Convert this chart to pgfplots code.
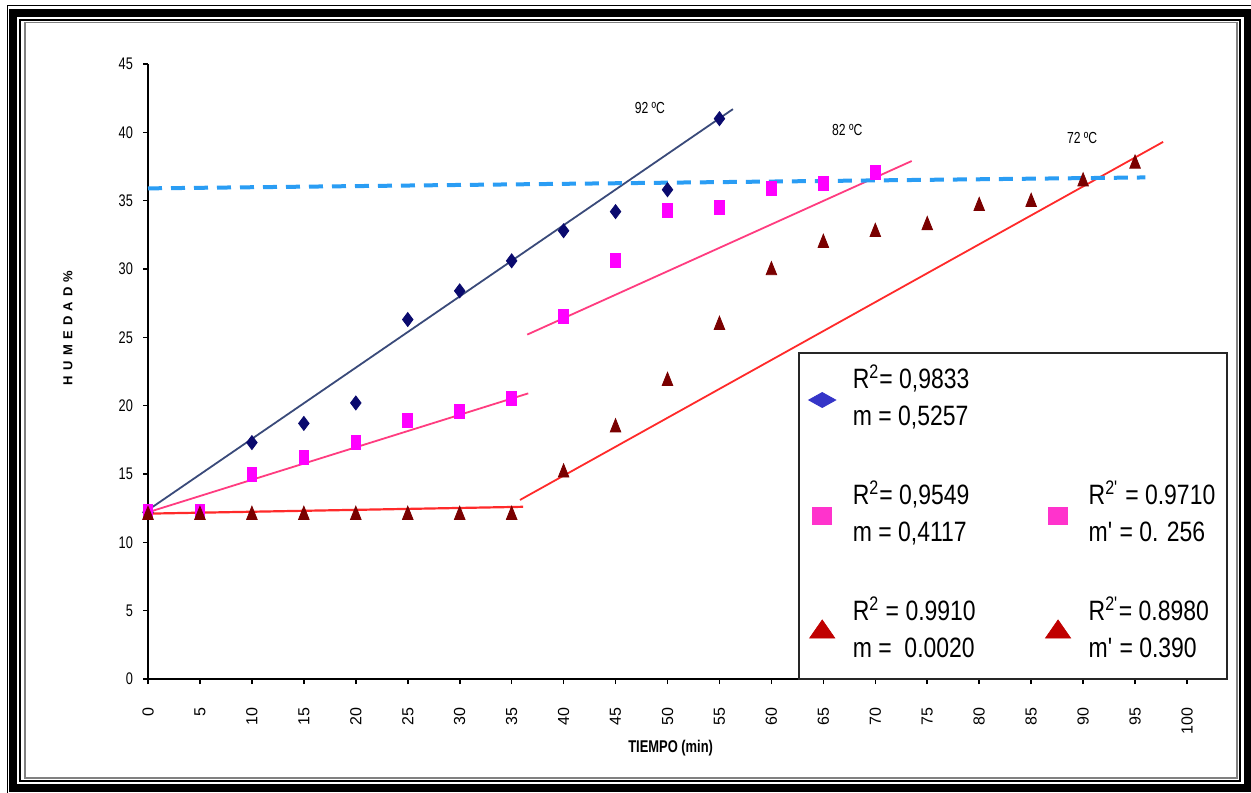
\documentclass[border=0pt]{standalone}
\usepackage{fontspec}
\setmainfont{Liberation Sans}[FakeStretch=0.76]
\newfontfamily\widefont{Liberation Sans}
\newfontfamily\legfont{Liberation Sans}[FakeStretch=0.82]
\newfontfamily\lsfont{Liberation Sans}[LetterSpace=40]
\usepackage{pgfplots}
\pgfplotsset{compat=1.18}

\definecolor{navyd}{HTML}{0A0A6E}
\definecolor{magd}{HTML}{FF00FF}
\definecolor{tri}{HTML}{7A0000}
\definecolor{trendblue}{HTML}{3A4A7A}
\definecolor{trendpink}{HTML}{FF3C80}
\definecolor{trendred}{HTML}{FF2A2A}
\definecolor{dashblue}{HTML}{2A9DF4}
\definecolor{legblue}{HTML}{3535C8}
\definecolor{legpink}{HTML}{FF33CC}
\definecolor{legred}{HTML}{C00000}

\newcommand\LE[2]{\begin{tabular}{@{}l@{}}#1\\#2\end{tabular}}

\begin{document}
\begin{tikzpicture}
\begin{scope}[x=0.5pt,y=-0.5pt,shift={(-148,-679)}]
\useasboundingbox (0,0) rectangle (1251,792);
\fill[white] (0,0) rectangle (1251,792);
\draw[line width=0.75pt] (7.5,5.75) rectangle (1262,803);
\draw[line width=4pt] (13.5,13) rectangle (1247.5,788);
\draw[line width=1pt] (20,20) rectangle (1240,781);
\draw[line width=0.75pt, gray] (25,22.5) rectangle (1237,778);
\end{scope}

\begin{axis}[
  at={(0,0)}, anchor=south west,
  scale only axis, width=519.5pt, height=307.5pt,
  xmin=0, xmax=100, ymin=0, ymax=45,
  xtick={0,5,...,100}, ytick={0,5,...,45},
  axis lines*=left,
  axis line style={line width=1pt, -},
  tick align=outside, major tick length=2.5pt,
  tick style={black, line width=0.8pt},
  clip=false,
  /pgf/number format/assume math mode=true,
  yticklabel style={font=\fontsize{8.4}{10}\selectfont, xshift=-1.5pt},
  xticklabel style={font=\widefont\fontsize{8}{10}\selectfont, yshift=-8.5pt, rotate=90, anchor=east},
  xlabel={\bfseries TIEMPO (min)},
  xlabel style={at={(rel axis cs:0.503,-0.112)}, anchor=center, font=\fontsize{8.5}{10}\selectfont},
  ylabel={\lsfont\bfseries HUMEDAD\%},
  ylabel style={at={(rel axis cs:-0.077,0.571)}, anchor=center, font=\fontsize{6.5}{8}\selectfont},
  legend columns=2,
  legend style={at={(axis description cs:0.6256,0.5317)}, anchor=north west,
    draw=black!85, line width=1pt, fill=white,
    font=\legfont\fontsize{14}{18.5}\selectfont, row sep=17pt, inner xsep=4pt, inner ysep=3pt,
    nodes={inner sep=2pt, text depth=},
    cells={anchor=west}},
  legend image code/.code={\draw[line width=0.4pt,#1] plot coordinates {(0.25cm,0cm)}; \path (0cm,0cm) (0.7cm,0cm);},
]
% data
\addplot[only marks, mark=diamond*, mark size=3.5pt, navyd, forget plot] coordinates {
(0,12.2)(10,17.3)(15,18.7)(20,20.2)(25,26.3)(30,28.4)(35,30.6)(40,32.8)(45,34.2)(50,35.8)(55,41.0)};
\addplot[only marks, mark=square*, mark size=3.5pt, mark options={xscale=0.7}, magd, forget plot] coordinates {
(0,12.3)(5,12.3)(10,15.0)(15,16.2)(20,17.3)(25,18.9)(30,19.6)(35,20.5)(40,26.5)(45,30.6)(50,34.3)(55,34.5)(60,35.9)(65,36.3)(70,37.1)};
\addplot[only marks, mark=triangle*, mark size=3.8pt, mark options={xscale=0.8,yscale=1.15}, tri, forget plot] coordinates {
(0,12.0)(5,12.0)(10,12.0)(15,12.0)(20,12.0)(25,12.0)(30,12.0)(35,12.0)(40,15.1)(45,18.4)(50,21.8)(55,25.9)(60,29.9)(65,31.9)(70,32.7)(75,33.2)(80,34.6)(85,34.9)(90,36.4)(95,37.7)};
% trend lines
\addplot[trendblue, line width=0.9pt, forget plot] coordinates {(0,12.36)(56.3,41.7)};
\addplot[trendpink, line width=0.9pt, forget plot] coordinates {(0,12.2)(36.6,20.9)};
\addplot[trendpink, line width=0.9pt, forget plot] coordinates {(36.5,25.2)(73.5,37.9)};
\addplot[trendred, line width=1.1pt, forget plot] coordinates {(0,12.1)(36.1,12.6)};
\addplot[trendred, line width=0.9pt, forget plot] coordinates {(35.8,13.1)(97.7,39.3)};
\addplot[dashblue, line width=2pt, dash pattern=on 7pt off 4.5pt, forget plot] coordinates {(0,35.9)(96,36.7)};
% temperature labels
\node[font=\fontsize{8}{10}\selectfont] at (axis cs:48.3,41.8) {92 ºC};
\node[font=\fontsize{8}{10}\selectfont] at (axis cs:67.3,40.2) {82 ºC};
\node[font=\fontsize{8}{10}\selectfont] at (axis cs:89.9,39.6) {72 ºC};
% legend
\addlegendimage{only marks, mark=diamond*, mark size=3.75pt, mark options={xscale=2.4}, legblue}
\addlegendentry{\makebox[93pt][l]{\LE{R\textsuperscript{2}= 0,9833}{m = 0,5257}}}
\addlegendimage{empty legend}
\addlegendentry{}
\addlegendimage{only marks, mark=square*, mark size=4.25pt, mark options={xscale=1.12}, legpink}
\addlegendentry{\makebox[93pt][l]{\LE{R\textsuperscript{2}= 0,9549}{m = 0,4117}}}
\addlegendimage{only marks, mark=square*, mark size=4.25pt, mark options={xscale=1.12}, legpink}
\addlegendentry{\LE{R\textsuperscript{2\textquotesingle} = 0.9710}{m\textquotesingle{} = 0. 256}}
\addlegendimage{only marks, mark=triangle*, mark size=6pt, mark options={xscale=1.2}, legred}
\addlegendentry{\makebox[93pt][l]{\LE{R\textsuperscript{2} = 0.9910}{m =\ \ 0.0020}}}
\addlegendimage{only marks, mark=triangle*, mark size=6pt, mark options={xscale=1.2}, legred}
\addlegendentry{\LE{R\textsuperscript{2\textquotesingle}= 0.8980}{m\textquotesingle{} = 0.390}}
\end{axis}
\end{tikzpicture}
\end{document}
